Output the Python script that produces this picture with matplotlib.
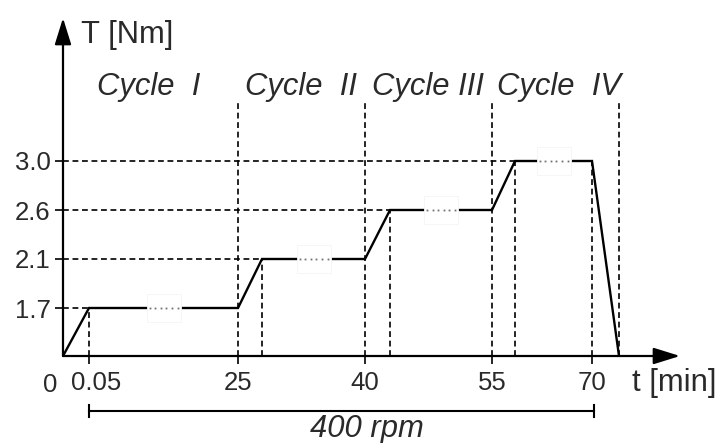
import numpy as np
import matplotlib
matplotlib.use("Agg")
import matplotlib.pyplot as plt
from matplotlib.patches import Rectangle
import matplotlib.transforms as mtransforms

plt.rcParams['font.family'] = ['Liberation Sans', 'DejaVu Sans']

# ---- data ----
times = [0, 0.05, 25, 25.05, 40, 40.05, 55, 55.05, 70, 70.05]
torque = [0, 1.7, 1.7, 2.1, 2.1, 2.6, 2.6, 3.0, 3.0, 0]
levels = [1.7, 2.1, 2.6, 3.0]
level_start = [0.05, 25.05, 40.05, 55.05]
level_end = [25, 40, 55, 70]
cycle_bounds = [25, 40, 55, 70.05]
xtick_vals = [0.05, 25, 40, 55, 70]
xtick_labels = ['0.05', '25', '40', '55', '70']
ytick_vals = [1.7, 2.1, 2.6, 3.0]
ytick_labels = ['1.7', '2.1', '2.6', '3.0']
cycle_labels = ['Cycle  I', 'Cycle  II', 'Cycle III', 'Cycle  IV']
speed_label = '400 rpm'
speed_span = [0.05, 70]

# ---- schematic (non-linear) axis layout ----
x_knots_t = np.array([0, 0.05, 25, 25.05, 40, 40.05, 55, 55.05, 70, 70.05, 80])
x_knots_p = np.array([63, 89, 238, 262, 365, 390, 492, 515, 592, 619, 680], float)
y_knots_v = np.array([0, 1.7, 2.1, 2.6, 3.0, 6.0])
y_knots_p = np.array([0, 48, 97, 146, 195, 338], float)

def xf(t): return np.interp(t, x_knots_t, x_knots_p)
def xi(p): return np.interp(p, x_knots_p, x_knots_t)
def yf(v): return np.interp(v, y_knots_v, y_knots_p)
def yi(p): return np.interp(p, y_knots_p, y_knots_v)

W, H = 720, 443
fig = plt.figure(figsize=(7.2, 4.43), dpi=100)
ax = fig.add_axes([63 / W, 1 - 356 / H, (680 - 63) / W, (356 - 18) / H])
ax.set_xscale('function', functions=(xf, xi))
ax.set_yscale('function', functions=(yf, yi))
ax.set_xlim(0, 80)
ax.set_ylim(0, 6)
for s in ax.spines.values():
    s.set_visible(False)

txt = '#2a2a2a'
big = 22.3
small = 18.5
dash = dict(color='black', lw=1.2, ls=(0, (3.5, 2.2)))

# horizontal dashed guides
for lv, ts in zip(levels, level_start):
    ax.plot([0, ts], [lv, lv], **dash, zorder=1)
# short vertical dashed guides (end of ramps / start of drop)
for lv, ts in zip(levels, level_start):
    ax.plot([ts, ts], [0, lv], **dash, zorder=1)
ax.plot([70, 70], [0, 3.0], **dash, zorder=1)
# tall cycle boundaries
top_frac = (356 - 100) / (356 - 18)
for cb in cycle_bounds:
    ax.axvline(cb, ymin=0, ymax=top_frac, **dash, zorder=1)

# torque profile
ax.plot(times, torque, color='black', lw=1.7, zorder=3, solid_joinstyle='miter')

# breaks in the plateaus
for lv, ts, te in zip(levels, level_start, level_end):
    pc = (xf(ts) + xf(te)) / 2
    x0, x1 = xi(pc - 17), xi(pc + 17)
    py = yf(lv)
    y0, y1 = yi(py - 14), yi(py + 14)
    ax.add_patch(Rectangle((x0, y0), x1 - x0, y1 - y0, facecolor='white',
                           edgecolor='#f5f5f5', lw=0.6, zorder=4))
    dots = xi(pc + np.arange(-14, 15, 5.6))
    ax.plot(dots, [lv] * len(dots), ls='none', marker='s', ms=1.3,
            mew=0, color='#707070', zorder=5)

# arrows for axes
arr = dict(arrowstyle='-|>,head_length=0.9,head_width=0.28', color='black',
           lw=1.6, shrinkA=0, shrinkB=0, mutation_scale=18)
ax.annotate('', xy=(1, 0), xytext=(0, 0), xycoords='axes fraction',
            arrowprops=arr, annotation_clip=False)
ax.annotate('', xy=(0, 1), xytext=(0, 0), xycoords='axes fraction',
            arrowprops=arr, annotation_clip=False)

# ticks
ax.set_xticks(xtick_vals)
ax.set_xticklabels(xtick_labels)
ax.set_yticks(ytick_vals)
ax.set_yticklabels(ytick_labels)
ax.xaxis.set_minor_locator(matplotlib.ticker.NullLocator())
ax.yaxis.set_minor_locator(matplotlib.ticker.NullLocator())
ax.tick_params(axis='x', direction='out', length=6, width=1.2, pad=5,
               labelsize=small, labelcolor=txt)
ax.tick_params(axis='y', direction='out', length=6, width=1.2, pad=3,
               labelsize=small, labelcolor=txt)
# first label sits slightly right of its tick in the reference
lab0 = ax.get_xticklabels()[0]
lab0.set_transform(lab0.get_transform() +
                   mtransforms.ScaledTranslation(7 / 100, 0, fig.dpi_scale_trans))

def ftext(x, y, s, **kw):
    fig.text(x / W, 1 - y / H, s, **kw)

ftext(50, 392, '0', ha='center', va='baseline', fontsize=small, color=txt)
ftext(632, 391, 't [min]', ha='left', va='baseline', fontsize=big, color=txt)
ftext(81, 43, 'T [Nm]', ha='left', va='baseline', fontsize=big, color=txt)

cycle_x = [97, 245, 372, 497]
for cx, lab in zip(cycle_x, cycle_labels):
    ftext(cx, 95, lab, ha='left', va='baseline', fontsize=big,
          style='italic', color=txt)

# speed bracket
yb = 411
xa, xb = xf(speed_span[0]), xf(speed_span[1]) + 2
fig.add_artist(plt.Line2D([xa / W, xb / W], [1 - yb / H] * 2, color='black',
                          lw=1.5, transform=fig.transFigure))
for xx in (xa, xb):
    fig.add_artist(plt.Line2D([xx / W] * 2, [1 - (yb - 6) / H, 1 - (yb + 6) / H],
                              color='black', lw=1.5, transform=fig.transFigure))
ftext((xa + xb) / 2 + 25, 437, speed_label, ha='center', va='baseline',
      fontsize=big, style='italic', color=txt)

fig.savefig('out.png', dpi=100)
